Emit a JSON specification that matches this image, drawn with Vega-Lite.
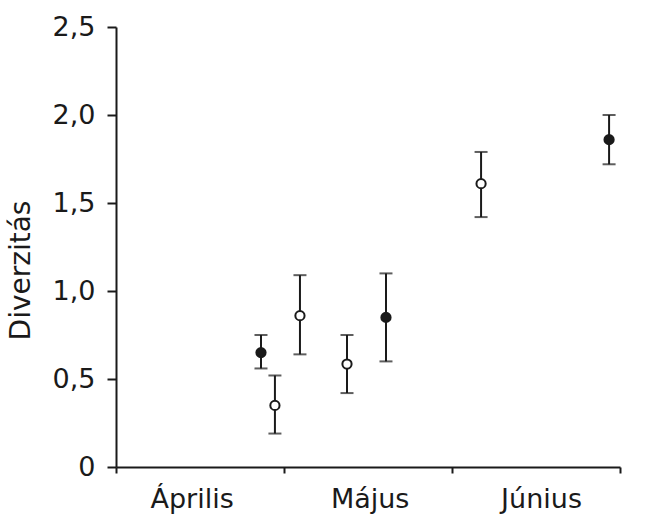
{
  "$schema": "https://vega.github.io/schema/vega-lite/v6.json",
  "width": 504,
  "height": 440,
  "autosize": {"type": "none"},
  "padding": {"left": 116, "top": 27, "right": 32, "bottom": 48},
  "background": "white",
  "config": {
    "view": {"stroke": null},
    "axis": {
      "domainColor": "#1a1a1a",
      "domainWidth": 2,
      "tickColor": "#1a1a1a",
      "tickWidth": 2,
      "grid": false,
      "labelFont": "DejaVu Sans",
      "labelColor": "#1a1a1a",
      "titleFont": "DejaVu Sans",
      "titleColor": "#1a1a1a"
    }
  },
  "data": {
    "values": [
      {"t": 0.863, "div": 0.65, "lo": 0.56, "hi": 0.75, "kind": "filled"},
      {"t": 0.946, "div": 0.35, "lo": 0.19, "hi": 0.52, "kind": "open"},
      {"t": 1.095, "div": 0.86, "lo": 0.64, "hi": 1.09, "kind": "open"},
      {"t": 1.375, "div": 0.585, "lo": 0.42, "hi": 0.75, "kind": "open"},
      {"t": 1.607, "div": 0.85, "lo": 0.60, "hi": 1.10, "kind": "filled"},
      {"t": 2.173, "div": 1.61, "lo": 1.42, "hi": 1.79, "kind": "open"},
      {"t": 2.935, "div": 1.86, "lo": 1.72, "hi": 2.0, "kind": "filled"}
    ]
  },
  "encoding": {
    "x": {
      "field": "t",
      "type": "quantitative",
      "scale": {"domain": [0, 3], "nice": false, "zero": false},
      "axis": {
        "title": null,
        "values": [0, 0.45, 1, 1.51, 2, 2.53, 3],
        "tickOpacity": {"condition": {"test": "datum.value % 1 === 0", "value": 1}, "value": 0},
        "tickSize": 6,
        "labelExpr": "datum.value == 0.45 ? 'Április' : datum.value == 1.51 ? 'Május' : datum.value == 2.53 ? 'Június' : ''",
        "labelOverlap": false,
        "labelBound": false,
        "labelFlush": false,
        "labelFontSize": 27,
        "labelPadding": 13
      }
    }
  },
  "layer": [
    {
      "mark": {"type": "rule", "color": "#1a1a1a", "strokeWidth": 2},
      "encoding": {
        "y": {
          "field": "lo",
          "type": "quantitative",
          "scale": {"domain": [0, 2.5], "nice": false},
          "axis": {
            "title": "Diverzitás",
            "titleFontSize": 28,
            "titleFontWeight": "normal",
            "titleX": -95,
            "titleY": 243,
            "titleAngle": -90,
            "titleAlign": "center",
            "titleBaseline": "middle",
            "values": [0, 0.5, 1, 1.5, 2, 2.5],
            "labelExpr": "datum.value == 0 ? '0' : replace(format(datum.value, '.1f'), '.', ',')",
            "labelFontSize": 27,
            "labelPadding": 12,
            "tickSize": 9
          }
        },
        "y2": {"field": "hi"}
      }
    },
    {
      "mark": {"type": "tick", "orient": "horizontal", "color": "#1a1a1a", "size": 13, "thickness": 2},
      "encoding": {"y": {"field": "lo", "type": "quantitative"}}
    },
    {
      "mark": {"type": "tick", "orient": "horizontal", "color": "#1a1a1a", "size": 13, "thickness": 2},
      "encoding": {"y": {"field": "hi", "type": "quantitative"}}
    },
    {
      "mark": {"type": "point", "shape": "circle", "size": 85, "stroke": "#1a1a1a", "strokeWidth": 2, "opacity": 1, "filled": false},
      "encoding": {
        "y": {"field": "div", "type": "quantitative"},
        "fill": {
          "field": "kind",
          "type": "nominal",
          "scale": {"domain": ["filled", "open"], "range": ["#1a1a1a", "white"]},
          "legend": null
        }
      }
    }
  ]
}
